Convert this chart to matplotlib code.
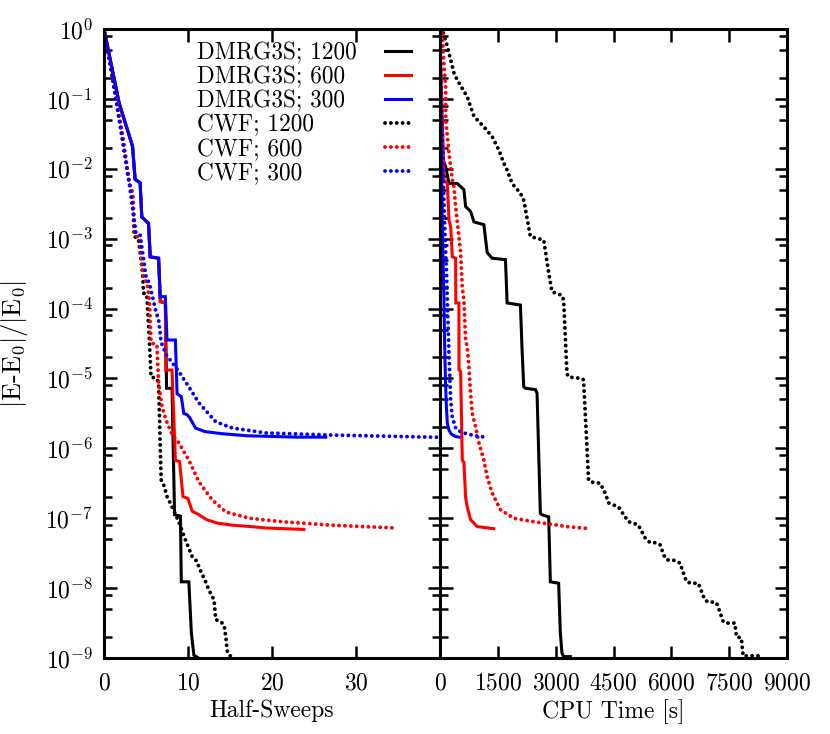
import numpy as np
import matplotlib
matplotlib.use("Agg")
import matplotlib.pyplot as plt
from matplotlib.ticker import FixedLocator, FuncFormatter, NullFormatter

plt.rcParams['font.family'] = ['cmr10']
plt.rcParams['mathtext.fontset'] = 'cm'
plt.rcParams['axes.unicode_minus'] = False
plt.rcParams['axes.formatter.use_mathtext'] = True

labels = ['DMRG3S; 1200', 'DMRG3S; 600', 'DMRG3S; 300',
          'CWF; 1200', 'CWF; 600', 'CWF; 300']
colors = ['black', 'red', 'blue', 'black', 'red', 'blue']

# half-sweeps vs log10 |E-E0|/|E0|
dmrg1200_hs = [0, 1.8, 3.4, 3.7, 4.3, 4.5, 5.3, 5.5, 6.5, 6.7, 7.3, 7.45, 8.1, 8.4,
               9.1, 9.2, 10.1, 10.4, 10.7, 11.5]
dmrg1200_hs_e = [0, -1.06, -1.68, -2.15, -2.2, -2.69, -2.78, -3.26, -3.28, -3.9, -3.92,
                 -5.14, -5.14, -6.95, -6.97, -7.91, -7.91, -8.64, -8.96, -9.02]
dmrg600_hs = [0, 1.8, 3.4, 3.7, 4.3, 4.5, 5.3, 5.5, 6.5, 6.7, 7.3, 7.35, 8.1, 8.5,
              9.0, 9.4, 10.0, 10.5, 11.3, 12.2, 13.5, 15.3, 17.5, 19.3, 21.5, 23.8]
dmrg600_hs_e = [0, -1.06, -1.68, -2.15, -2.2, -2.69, -2.78, -3.26, -3.28, -3.9, -3.92,
                -4.88, -4.88, -6.17, -6.19, -6.69, -6.72, -6.9, -6.95, -7.02, -7.07,
                -7.1, -7.12, -7.14, -7.15, -7.16]
dmrg300_hs = [0, 1.8, 3.4, 3.7, 4.3, 4.5, 5.3, 5.5, 6.5, 6.7, 7.3, 7.5, 8.5, 8.7,
              9.2, 9.5, 9.9, 10.2, 10.9, 12.0, 14.0, 17.0, 20.0, 23.0, 26.4]
dmrg300_hs_e = [0, -1.06, -1.68, -2.15, -2.2, -2.69, -2.78, -3.26, -3.28, -3.83, -3.83,
                -4.45, -4.45, -5.22, -5.26, -5.5, -5.52, -5.56, -5.71, -5.76, -5.79,
                -5.82, -5.83, -5.84, -5.84]
cwf1200_hs = [0, 1.0, 2.2, 3.0, 3.4, 3.6, 4.1, 4.6, 4.7, 5.1, 5.4, 5.6, 6.3, 6.5,
              6.8, 7.1, 7.5, 8.0, 8.9, 9.7, 10.5, 11.1, 11.3, 12.1, 12.5, 13.1, 13.3,
              13.9, 14.3, 14.5, 14.7, 15.3]
cwf1200_hs_e = [0, -0.69, -1.55, -2.2, -2.35, -2.97, -3.0, -3.49, -3.78, -3.8, -4.45,
                -4.98, -5.0, -5.07, -6.45, -6.52, -6.69, -6.81, -7.05, -7.31, -7.55,
                -7.62, -7.7, -7.91, -8.03, -8.17, -8.45, -8.48, -8.53, -8.7, -8.93, -9.0]
cwf600_hs = [0, 1.0, 2.2, 3.0, 3.4, 3.7, 4.3, 4.6, 4.8, 5.1, 5.4, 5.6, 6.3, 6.5,
             6.9, 7.4, 8.1, 8.9, 10.1, 11.3, 12.9, 14.5, 17.3, 21.2, 27.1, 34.8]
cwf600_hs_e = [0, -0.69, -1.5, -2.2, -2.35, -2.95, -3.0, -3.49, -3.59, -3.62, -3.88,
               -4.49, -4.52, -5.07, -5.4, -5.6, -5.8, -5.92, -6.17, -6.48, -6.74,
               -6.91, -7.0, -7.05, -7.1, -7.14]
cwf300_hs = [0, 1.0, 1.8, 3.0, 3.8, 4.3, 5.0, 5.4, 6.2, 6.5, 6.8, 7.4, 8.9, 10.1,
             11.3, 13.3, 15.3, 19.3, 27.1, 39.0, 45.0]
cwf300_hs_e = [0, -0.69, -1.3, -2.2, -2.92, -2.95, -3.54, -3.64, -4.05, -4.16, -4.48,
               -4.66, -4.9, -5.12, -5.35, -5.62, -5.71, -5.78, -5.81, -5.84, -5.85]

# CPU time [s] vs log10 |E-E0|/|E0|
dmrg1200_t = [0, 10, 15, 17, 60, 147, 233, 448, 620, 664, 793, 880, 1138, 1224, 1353,
              1698, 1741, 2086, 2129, 2172, 2216, 2474, 2517, 2603, 2646, 2819, 2862,
              3077, 3121, 3163, 3207, 3380]
dmrg1200_t_e = [0, -0.5, -1.2, -1.68, -1.85, -1.97, -2.21, -2.21, -2.3, -2.54, -2.61,
                -2.76, -2.8, -3.2, -3.28, -3.3, -3.92, -3.95, -4.59, -5.12, -5.14, -5.16,
                -5.21, -6.93, -6.95, -6.98, -7.91, -7.93, -8.64, -8.93, -8.98, -8.98]
dmrg600_t = [0, 30, 60, 90, 103, 190, 233, 276, 319, 405, 410, 491, 493, 535, 578,
             620, 664, 706, 793, 965, 1397]
dmrg600_t_e = [0, -0.7, -1.3, -1.8, -2.16, -2.21, -2.73, -2.83, -3.26, -3.28, -3.92,
               -3.92, -4.88, -4.9, -6.17, -6.2, -6.7, -6.84, -7.02, -7.12, -7.15]
dmrg300_t = [0, 15, 30, 45, 60, 80, 103, 120, 140, 165, 190, 233, 300, 400, 491]
dmrg300_t_e = [0, -1.0, -1.7, -2.2, -2.8, -3.3, -3.88, -4.5, -5.0, -5.4, -5.64, -5.74,
               -5.8, -5.83, -5.84]
cwf1200_t = [0, 60, 190, 362, 448, 706, 880, 1138, 1353, 1526, 1655, 1741, 1870, 2086,
             2172, 2345, 2690, 2819, 2905, 3163, 3207, 3293, 3336, 3680, 3724, 3853,
             3896, 4155, 4285, 4371, 4500, 4630, 4802, 4888, 5017, 5146, 5319, 5449,
             5578, 5707, 5836, 5922, 6051, 6224, 6354, 6397, 6517, 6699, 6871, 6957,
             7085, 7171, 7259, 7345, 7431, 7647, 7690, 7810, 7819, 7862, 8380]
cwf1200_t_e = [0, -0.01, -0.25, -0.63, -0.73, -0.97, -1.25, -1.4, -1.54, -1.73, -1.92,
               -2.02, -2.21, -2.35, -2.45, -2.97, -3.02, -3.49, -3.76, -3.81, -3.88,
               -4.93, -4.98, -5.0, -5.02, -6.45, -6.48, -6.5, -6.64, -6.78, -6.81, -6.84,
               -6.98, -7.05, -7.07, -7.1, -7.28, -7.35, -7.35, -7.38, -7.57, -7.6, -7.6,
               -7.64, -7.85, -7.91, -7.93, -7.93, -8.17, -8.2, -8.2, -8.21, -8.34, -8.48,
               -8.5, -8.5, -8.7, -8.71, -8.74, -8.97, -8.97]
cwf600_t = [0, 60, 100, 147, 150, 233, 319, 362, 405, 535, 578, 620, 664, 706, 750,
            793, 836, 923, 1009, 1138, 1224, 1353, 1570, 1914, 2431, 3293, 3896]
cwf600_t_e = [0, -0.05, -0.5, -0.82, -1.3, -1.78, -2.16, -2.26, -2.54, -3.2, -3.69,
              -3.88, -4.45, -4.55, -4.84, -5.21, -5.5, -5.69, -5.92, -6.17, -6.41,
              -6.64, -6.88, -7.0, -7.05, -7.12, -7.15]
cwf300_t = [0, 25, 50, 80, 110, 140, 170, 190, 230, 276, 319, 400, 448, 620, 900, 1180]
cwf300_t_e = [0, -0.7, -1.3, -2.0, -2.6, -3.1, -3.5, -3.88, -4.6, -5.31, -5.55, -5.7,
              -5.74, -5.78, -5.82, -5.84]

hs_series = [(dmrg1200_hs, dmrg1200_hs_e), (dmrg600_hs, dmrg600_hs_e),
             (dmrg300_hs, dmrg300_hs_e), (cwf1200_hs, cwf1200_hs_e),
             (cwf600_hs, cwf600_hs_e), (cwf300_hs, cwf300_hs_e)]
t_series = [(dmrg1200_t, dmrg1200_t_e), (dmrg600_t, dmrg600_t_e),
            (dmrg300_t, dmrg300_t_e), (cwf1200_t, cwf1200_t_e),
            (cwf600_t, cwf600_t_e), (cwf300_t, cwf300_t_e)]

DOT = (0, (0.01, 1.5))
styles = ['-', '-', '-', DOT, DOT, DOT]
caps = ['butt', 'butt', 'butt', 'round', 'round', 'round']
widths = [2.2, 2.2, 2.2, 2.8, 2.8, 2.8]

fig = plt.figure(figsize=(8.30, 7.34), dpi=100)
ax1 = fig.add_axes([104 / 830, 1 - 658 / 734, 336 / 830, 629 / 734])
ax2 = fig.add_axes([440 / 830, 1 - 658 / 734, 347 / 830, 629 / 734])

for (x, e), c, ls, cs, w in zip(hs_series, colors, styles, caps, widths):
    ax1.plot(x, 10.0 ** np.array(e), color=c, ls=ls, lw=w,
             solid_joinstyle='miter', dash_capstyle=cs)
for (x, e), c, ls, cs, w in zip(t_series, colors, styles, caps, widths):
    ax2.plot(x, 10.0 ** np.array(e), color=c, ls=ls, lw=w,
             solid_joinstyle='miter', dash_capstyle=cs)

majors = [10.0 ** k for k in range(-9, 1)]
minors = [m * 10.0 ** k for k in range(-9, 0) for m in (2, 5, 8)]

for ax in (ax1, ax2):
    ax.set_yscale('log')
    ax.set_ylim(1e-9, 1)
    ax.yaxis.set_major_locator(FixedLocator(majors))
    ax.yaxis.set_minor_locator(FixedLocator(minors))
    ax.yaxis.set_minor_formatter(NullFormatter())
    for s in ax.spines.values():
        s.set_linewidth(2.2)
    ax.tick_params(which='major', direction='in', length=9, width=1.8,
                   top=True, right=True, labelsize=17)
    ax.tick_params(axis='x', which='major', pad=10)
    ax.tick_params(axis='y', which='major', pad=8)
    ax.tick_params(which='minor', direction='in', length=5.5, width=1.8,
                   top=False, bottom=False, right=True, left=True)

ax1.set_xlim(0, 40)
ax1.set_xticks([0, 10, 20, 30])
ax1.yaxis.set_major_formatter(FuncFormatter(lambda v, p: r'$10^{%d}$' % round(np.log10(v))))
ax1.set_xlabel('Half-Sweeps', fontsize=17, labelpad=4)
ax1.set_ylabel(r'$|$E-E$_0|/|$E$_0|$', fontsize=19, labelpad=11)

ax2.set_xlim(0, 9000)
ax2.set_xticks([0, 1500, 3000, 4500, 6000, 7500, 9000])
ax2.tick_params(labelleft=False)
ax2.set_xlabel('CPU Time [s]', fontsize=17, labelpad=4)

# key, gnuplot style: text left, sample right
for i, (lab, c, ls, cs, w) in enumerate(zip(labels, colors, styles, caps, widths)):
    y = 0.965 - i * 0.0382
    ax1.text(0.277, y, lab, transform=ax1.transAxes, fontsize=16.8,
             ha='left', va='center_baseline')
    ax1.plot([0.836, 0.914], [y, y], transform=ax1.transAxes, color=c, ls=ls,
             lw=w, dash_capstyle=cs, clip_on=False)

fig.savefig('out.png', dpi=100)
